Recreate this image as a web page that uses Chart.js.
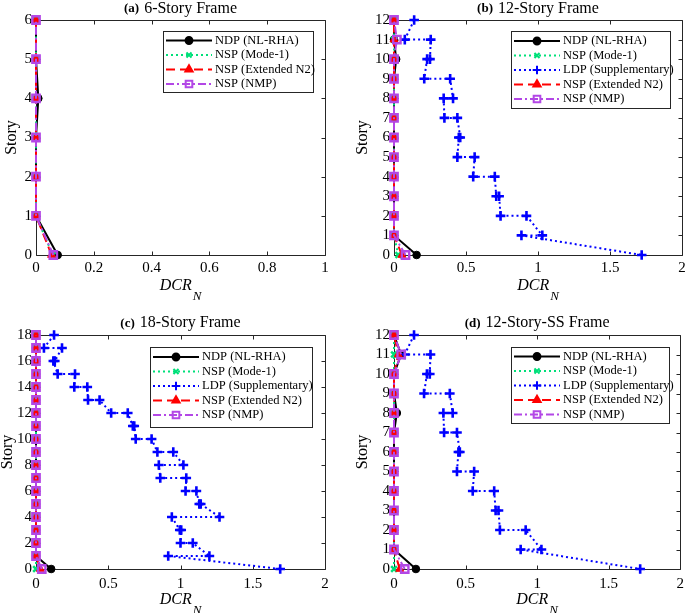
<!DOCTYPE html>
<html>
<head>
<meta charset="utf-8">
<script src="https://cdn.jsdelivr.net/npm/chart.js@4.4.0/dist/chart.umd.min.js"></script>
<style>
  html, body { margin: 0; padding: 0; background: #fff; overflow: hidden; }
  body { width: 685px; height: 613px; position: relative; }
  .panel { position: absolute; }
</style>
</head>
<body>
<div class="panel" style="left:0;top:0"><canvas id="chart-a" width="340" height="300"></canvas></div>
<div class="panel" style="left:340px;top:0"><canvas id="chart-b" width="350" height="300"></canvas></div>
<div class="panel" style="left:0;top:300px"><canvas id="chart-c" width="340" height="313"></canvas></div>
<div class="panel" style="left:340px;top:300px"><canvas id="chart-d" width="350" height="313"></canvas></div>

<script>
// ======================================
// DATA
// ======================================

// story levels
const storiesA = [0, 1, 2, 3, 4, 5, 6];
const storiesB = [0, 1, 2, 3, 4, 5, 6, 7, 8, 9, 10, 11, 12];
const storiesC = [0, 1, 2, 3, 4, 5, 6, 7, 8, 9, 10, 11, 12, 13, 14, 15, 16, 17, 18];
const storiesD = [0, 1, 2, 3, 4, 5, 6, 7, 8, 9, 10, 11, 12];

// (a) 6-Story Frame
const ndpA   = [0.075, 0, 0, 0, 0.008, 0, 0];
const mode1A = [0.058, 0, 0, 0, 0, 0, 0];
const n2A    = [0.054, 0, 0, 0, 0, 0, 0];
const nmpA   = [0.060, 0, 0, 0, 0, 0, 0];

// (b) 12-Story Frame
const ndpB   = [0.157, 0, 0, 0, 0, 0, 0, 0, 0, 0, 0.015, 0, 0];
const mode1B = [0.03, 0, 0, 0, 0, 0, 0, 0, 0, 0, 0, 0, 0];
const n2B    = [0.055, 0, 0, 0, 0, 0, 0, 0, 0, 0, 0, 0, 0];
const nmpB   = [0.08, 0, 0, 0, 0, 0, 0, 0, 0, 0, 0, 0.02, 0];
const ldpStoryB = [12, 11, 11, 10, 10, 9, 9, 8, 8, 7, 7, 6, 6, 5, 5, 4, 4, 3, 3, 2, 2, 1, 1, 0];
const ldpB      = [0.14, 0.075, 0.255, 0.25, 0.23, 0.21, 0.39, 0.41, 0.345, 0.35, 0.44, 0.46, 0.45,
                   0.44, 0.56, 0.55, 0.70, 0.71, 0.73, 0.74, 0.92, 1.03, 0.885, 1.72];

// (c) 18-Story Frame
const ndpC   = [0.105, 0, 0, 0, 0, 0, 0, 0, 0, 0, 0, 0, 0, 0, 0, 0, 0, 0, 0];
const mode1C = [0.0, 0, 0, 0, 0, 0, 0, 0, 0, 0, 0, 0, 0, 0, 0, 0, 0, 0, 0];
const n2C    = [0.03, 0, 0, 0, 0, 0, 0, 0, 0, 0, 0, 0, 0, 0, 0, 0, 0, 0, 0];
const nmpC   = [0.04, 0, 0, 0, 0, 0, 0, 0, 0, 0, 0, 0, 0, 0, 0, 0, 0, 0, 0];
const ldpStoryC = [18, 17, 17, 16, 16, 15, 15, 14, 14, 13, 13, 12, 12, 11, 11, 10, 10, 9, 9,
                   8, 8, 7, 7, 6, 6, 5, 5, 4, 4, 3, 3, 2, 2, 1, 1, 0];
const ldpC      = [0.125, 0.055, 0.18, 0.13, 0.12, 0.15, 0.27, 0.265, 0.355, 0.36, 0.44, 0.52, 0.635,
                   0.67, 0.68, 0.69, 0.80, 0.84, 0.95, 1.02, 0.85, 0.86, 1.04, 1.035, 1.11,
                   1.13, 1.14, 1.27, 0.94, 0.995, 1.005, 1.0, 1.085, 1.20, 0.915, 1.69];

// (d) 12-Story-SS Frame
const ndpD   = [0.153, 0, 0, 0, 0, 0, 0, 0, 0.02, 0, 0, 0.05, 0];
const mode1D = [0.0, 0, 0, 0, 0, 0, 0, 0, 0, 0, 0, 0, 0];
const n2D    = [0.04, 0, 0, 0, 0, 0, 0, 0, 0, 0, 0, 0.03, 0];
const nmpD   = [0.075, 0, 0, 0, 0, 0, 0, 0, 0, 0, 0, 0.05, 0];
const ldpStoryD = [12, 11, 11, 10, 10, 9, 9, 8, 8, 7, 7, 6, 6, 5, 5, 4, 4, 3, 3, 2, 2, 1, 1, 0];
const ldpD      = [0.14, 0.075, 0.255, 0.25, 0.23, 0.21, 0.39, 0.41, 0.345, 0.35, 0.44, 0.46, 0.45,
                   0.44, 0.56, 0.55, 0.70, 0.71, 0.73, 0.74, 0.92, 1.03, 0.885, 1.72];

// tick values
const xTicksA = [0, 0.2, 0.4, 0.6, 0.8, 1];
const xTicksWide = [0, 0.5, 1, 1.5, 2];
const yTicksA = [0, 1, 2, 3, 4, 5, 6];
const yTicks12 = [0, 1, 2, 3, 4, 5, 6, 7, 8, 9, 10, 11, 12];
const yTicks18 = [0, 2, 4, 6, 8, 10, 12, 14, 16, 18];


// ======================================
// STYLES
// ======================================
const FONT = "'Liberation Serif', 'Times New Roman', serif";

const seriesStyles = {
    ndp:   { label: "NDP (NL-RHA)",        color: "#000000", dash: [],           point: "circle",   radius: 3.8, fill: "#000000",       pw: 1 },
    mode1: { label: "NSP (Mode-1)",        color: "#00e07a", dash: [2, 3],       point: "crossRot", radius: 4,   fill: "rgba(0,0,0,0)", pw: 2.5 },
    ldp:   { label: "LDP (Supplementary)", color: "#0000ff", dash: [2, 3],       point: "cross",    radius: 4.8, fill: "rgba(0,0,0,0)", pw: 2.6 },
    n2:    { label: "NSP (Extended N2)",   color: "#ff0000", dash: [9, 5],       point: "triangle", radius: 4.6, fill: "#ff0000",       pw: 1 },
    nmp:   { label: "NSP (NMP)",           color: "#b347e6", dash: [8, 3, 2, 3], point: "rect",     radius: 5.2, fill: "rgba(0,0,0,0)", pw: 2.4 }
};

function series(key, xs, ys) {
    const s = seriesStyles[key];
    return {
        label: s.label,
        data: xs.map(function (v, i) { return { x: v, y: ys[i] }; }),
        showLine: true,
        borderColor: s.color,
        backgroundColor: s.color,
        borderWidth: 2,
        borderDash: s.dash,
        pointStyle: s.point,
        pointRadius: s.radius,
        pointBorderColor: s.color,
        pointBackgroundColor: s.fill,
        pointBorderWidth: s.pw,
        clip: false,
        tension: 0
    };
}


// ======================================
// PANEL PLUGIN: frame, inward ticks, title, x label, legend
// ======================================
const panelPlugin = {
    id: "panel",
    beforeDatasetsDraw(chart, args, opts) {
        const ctx = chart.ctx;
        const a = chart.chartArea;
        const x = chart.scales.x, y = chart.scales.y;
        const L = Math.round(a.left) + 0.5, R = Math.round(a.right) + 0.5;
        const T = Math.round(a.top) + 0.5, B = Math.round(a.bottom) + 0.5;
        ctx.save();
        ctx.strokeStyle = "#262626";
        ctx.lineWidth = 1;
        ctx.beginPath();
        ctx.rect(L, T, R - L, B - T);
        x.ticks.forEach(function (t) {
            const px = Math.round(x.getPixelForValue(t.value)) + 0.5;
            ctx.moveTo(px, B); ctx.lineTo(px, B - 4);
            ctx.moveTo(px, T); ctx.lineTo(px, T + 4);
        });
        y.ticks.forEach(function (t) {
            const py = Math.round(y.getPixelForValue(t.value)) + 0.5;
            ctx.moveTo(L, py); ctx.lineTo(L + 4, py);
            ctx.moveTo(R, py); ctx.lineTo(R - 4, py);
        });
        ctx.stroke();
        ctx.restore();
    },
    afterDraw(chart, args, opts) {
        const ctx = chart.ctx;
        const a = chart.chartArea;
        const cx = (a.left + a.right) / 2;
        ctx.save();
        ctx.fillStyle = "#000";
        ctx.textBaseline = "middle";

        // title: bold tag + regular text
        ctx.font = "bold 13px " + FONT;
        const w1 = ctx.measureText(opts.tag).width;
        ctx.font = "16px " + FONT;
        const w2 = ctx.measureText(opts.title).width;
        const gap = 5;
        const tx = cx - (w1 + gap + w2) / 2;
        const ty = a.top - opts.titleOff;
        ctx.textAlign = "left";
        ctx.font = "bold 13px " + FONT;
        ctx.fillText(opts.tag, tx, ty + 0.5);
        ctx.font = "16px " + FONT;
        ctx.fillText(opts.title, tx + w1 + gap, ty);

        // x label DCR_N
        ctx.font = "italic 16px " + FONT;
        const wd = ctx.measureText("DCR").width;
        ctx.font = "italic 13px " + FONT;
        const wn = ctx.measureText("N").width;
        const lx = cx - (wd + wn + 1) / 2;
        ctx.font = "italic 16px " + FONT;
        ctx.fillText("DCR", lx, a.bottom + opts.xLabelOff);
        ctx.font = "italic 13px " + FONT;
        ctx.fillText("N", lx + wd + 1, a.bottom + opts.xLabelOff + 11);

        // legend
        const lg = opts.legend;
        const sets = chart.data.datasets;
        ctx.fillStyle = "#fff";
        ctx.fillRect(lg.x, lg.y, lg.w, lg.h);
        ctx.strokeStyle = "#262626";
        ctx.lineWidth = 1;
        ctx.strokeRect(lg.x + 0.5, lg.y + 0.5, lg.w, lg.h);
        sets.forEach(function (d, i) {
            const ry = lg.y + lg.first + i * lg.row;
            const x1 = lg.x + 3, x2 = lg.x + 49;
            ctx.save();
            ctx.strokeStyle = d.borderColor;
            ctx.lineWidth = d.borderWidth;
            ctx.setLineDash(d.borderDash);
            ctx.beginPath();
            ctx.moveTo(x1, ry); ctx.lineTo(x2, ry);
            ctx.stroke();
            ctx.setLineDash([]);
            ctx.strokeStyle = d.pointBorderColor;
            ctx.fillStyle = d.pointBackgroundColor;
            Chart.helpers.drawPoint(ctx, {
                pointStyle: d.pointStyle, radius: d.pointRadius * 0.9,
                borderWidth: d.pointBorderWidth, rotation: 0
            }, (x1 + x2) / 2, ry);
            ctx.restore();
            ctx.fillStyle = "#000";
            ctx.font = "12.5px " + FONT;
            ctx.textAlign = "left";
            ctx.fillText(d.label, lg.x + 52, ry);
        });
        ctx.restore();
    }
};


// ======================================
// CHART BUILDER
// ======================================
function makePanel(id, cfg) {
    const canvas = document.getElementById(id);
    const W = canvas.width, H = canvas.height;
    const sets = cfg.sets;
    sets.forEach(function (d, i) { d.order = sets.length - i; });

    new Chart(canvas, {
        type: "scatter",
        data: { datasets: sets },
        options: {
            responsive: false,
            animation: false,
            events: [],
            layout: { padding: { left: 0, top: cfg.area.top, right: W - cfg.area.right, bottom: 0 } },
            scales: {
                x: {
                    type: "linear",
                    min: cfg.xTicks[0],
                    max: cfg.xTicks[cfg.xTicks.length - 1],
                    grid: { display: false, drawTicks: false },
                    border: { display: false },
                    ticks: {
                        padding: cfg.xPad,
                        color: "#000",
                        maxRotation: 0,
                        autoSkip: false,
                        font: { family: FONT, size: 15 },
                        callback: function (v) { return String(v); }
                    },
                    afterBuildTicks: function (s) { s.ticks = cfg.xTicks.map(function (v) { return { value: v }; }); },
                    afterFit: function (s) { s.height = H - cfg.area.bottom; }
                },
                y: {
                    type: "linear",
                    min: cfg.yTicks[0],
                    max: cfg.yTicks[cfg.yTicks.length - 1],
                    grid: { display: false, drawTicks: false },
                    border: { display: false },
                    ticks: {
                        padding: 4,
                        color: "#000",
                        autoSkip: false,
                        font: { family: FONT, size: 15 },
                        callback: function (v) { return String(v); }
                    },
                    title: {
                        display: true,
                        text: "Story",
                        color: "#000",
                        font: { family: FONT, size: 16, lineHeight: 1 },
                        padding: { top: cfg.storyPad, bottom: 0 }
                    },
                    afterBuildTicks: function (s) { s.ticks = cfg.yTicks.map(function (v) { return { value: v }; }); },
                    afterFit: function (s) { s.width = cfg.area.left; }
                }
            },
            plugins: {
                legend: { display: false },
                tooltip: { enabled: false },
                panel: {
                    tag: cfg.tag,
                    title: cfg.title,
                    titleOff: cfg.titleOff,
                    xLabelOff: 31,
                    legend: cfg.legend
                }
            }
        },
        plugins: [panelPlugin]
    });
}

makePanel("chart-a", {
    tag: "(a)", title: "6-Story Frame", titleOff: 11.5,
    area: { left: 36, right: 325, top: 20, bottom: 255 },
    xTicks: xTicksA, yTicks: yTicksA, xPad: 4, storyPad: 4,
    legend: { x: 163, y: 31, w: 150, h: 61, first: 9.5, row: 14.5 },
    sets: [
        series("ndp", ndpA, storiesA),
        series("mode1", mode1A, storiesA),
        series("n2", n2A, storiesA),
        series("nmp", nmpA, storiesA)
    ]
});

makePanel("chart-b", {
    tag: "(b)", title: "12-Story Frame", titleOff: 11.5,
    area: { left: 54, right: 342, top: 20, bottom: 255 },
    xTicks: xTicksWide, yTicks: yTicks12, xPad: 4, storyPad: 15,
    legend: { x: 171, y: 31, w: 159, h: 77, first: 10, row: 14.5 },
    sets: [
        series("ndp", ndpB, storiesB),
        series("mode1", mode1B, storiesB),
        series("ldp", ldpB, ldpStoryB),
        series("n2", n2B, storiesB),
        series("nmp", nmpB, storiesB)
    ]
});

makePanel("chart-c", {
    tag: "(c)", title: "18-Story Frame", titleOff: 12,
    area: { left: 36, right: 325, top: 35, bottom: 269 },
    xTicks: xTicksWide, yTicks: yTicks18, xPad: 6, storyPad: 0,
    legend: { x: 150, y: 47, w: 162, h: 80, first: 10, row: 14.5 },
    sets: [
        series("ndp", ndpC, storiesC),
        series("mode1", mode1C, storiesC),
        series("ldp", ldpC, ldpStoryC),
        series("n2", n2C, storiesC),
        series("nmp", nmpC, storiesC)
    ]
});

makePanel("chart-d", {
    tag: "(d)", title: "12-Story-SS Frame", titleOff: 12,
    area: { left: 54, right: 342, top: 35, bottom: 269 },
    xTicks: xTicksWide, yTicks: yTicks12, xPad: 6, storyPad: 15,
    legend: { x: 171, y: 47, w: 158, h: 76, first: 9.5, row: 14.5 },
    sets: [
        series("ndp", ndpD, storiesD),
        series("mode1", mode1D, storiesD),
        series("ldp", ldpD, ldpStoryD),
        series("n2", n2D, storiesD),
        series("nmp", nmpD, storiesD)
    ]
});
</script>
</body>
</html>
